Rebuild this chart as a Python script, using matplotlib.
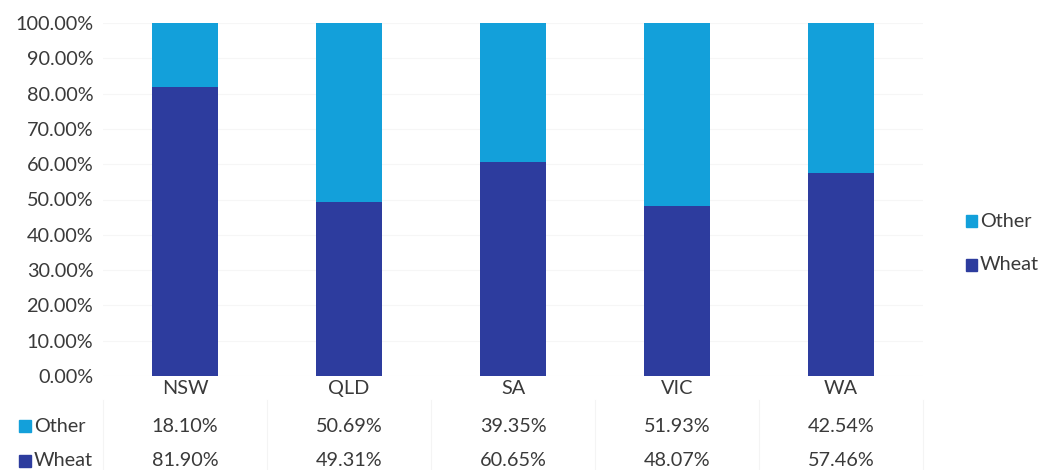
import matplotlib
matplotlib.use("Agg")
import matplotlib.pyplot as plt
import matplotlib.transforms as mtransforms
from matplotlib.patches import Rectangle

states = ["NSW", "QLD", "SA", "VIC", "WA"]
wheat = [81.90, 49.31, 60.65, 48.07, 57.46]
other = [18.10, 50.69, 39.35, 51.93, 42.54]
yticks = [0, 10, 20, 30, 40, 50, 60, 70, 80, 90, 100]

c_other = "#13a0da"
c_wheat = "#2d3c9e"
txt = "#3a3a3a"
fs = 14.3

plt.rcParams['font.family'] = ['Lato', 'DejaVu Sans']

fig = plt.figure(figsize=(10.41, 4.70), dpi=100)
ax = fig.add_axes([103/1041, 1 - 376/470, (923-103)/1041, (376-23)/470])

x = list(range(len(states)))
ax.bar(x, wheat, width=0.40, color=c_wheat, zorder=2)
ax.bar(x, other, width=0.40, bottom=wheat, color=c_other, zorder=2)

ax.set_xlim(-0.5, len(states) - 0.5)
ax.set_ylim(0, 100)
ax.set_yticks(yticks)
ax.set_yticklabels([f"{v:.2f}%" for v in yticks], fontsize=fs, color=txt)
ax.set_xticks(x)
ax.set_xticklabels(states, fontsize=fs, color=txt)
ax.tick_params(length=0, pad=7)
ax.tick_params(axis='x', pad=3)
ax.grid(axis='y', color="#f6f6f6", linewidth=0.8, zorder=0)
for s in ax.spines.values():
    s.set_visible(False)

# data table rows
trans = mtransforms.blended_transform_factory(ax.transData, fig.transFigure)
rows = [("Other", other, c_other, 426), ("Wheat", wheat, c_wheat, 461)]
for name, vals, col, ypix in rows:
    yf = 1 - ypix / 470
    for xi, v in zip(x, vals):
        ax.text(xi, yf, f"{v:.2f}%", transform=trans, ha='center', va='center',
                fontsize=fs, color=txt, clip_on=False)
    fig.patches.append(Rectangle((19/1041, yf - 6/470), 12/1041, 12/470,
                                 transform=fig.transFigure, color=col))
    fig.text(34/1041, yf, name, ha='left', va='center', fontsize=fs, color=txt)

# faint table lines
for xi in range(len(states) + 1):
    xp = xi - 0.5
    ax.plot([xp, xp], [1 - 400/470, 1 - 470/470], transform=trans,
            color="#f4f4f4", linewidth=0.8, clip_on=False)

# legend on the right
for name, col, ypix in [("Other", c_other, 221), ("Wheat", c_wheat, 265)]:
    yf = 1 - ypix / 470
    fig.patches.append(Rectangle((966/1041, yf - 6/470), 11/1041, 12/470,
                                 transform=fig.transFigure, color=col))
    fig.text(980/1041, yf, name, ha='left', va='center', fontsize=fs, color=txt)

fig.savefig("out.png", dpi=100, facecolor="white")
